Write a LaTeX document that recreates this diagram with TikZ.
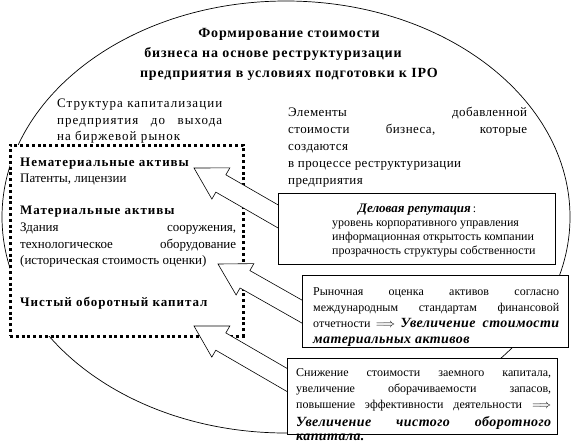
\documentclass[tikz,border=0pt]{standalone}
\usepackage{fontspec}
\usepackage{graphicx}
\setmainfont{Liberation Serif}
\usetikzlibrary{calc}
\newlength\natw
\newcommand\fitline[2]{\settowidth{\natw}{#2}\ifdim\natw<#1\relax\makebox[#1][s]{#2}\else\resizebox{#1}{\height}{#2}\fi}
\newcommand\bsp{\bfseries\addfontfeatures{LetterSpace=7.5}}
\newcommand\bis{\fontsize{14}{16}\selectfont\bfseries\itshape\addfontfeatures{LetterSpace=3}}
\tikzset{
  txt/.style={inner sep=0pt, anchor=base west, font=\fontsize{13}{15}\selectfont},
  lhd/.style={txt, font=\fontsize{13}{15}\selectfont\addfontfeatures{LetterSpace=8}},
  rhd/.style={txt, font=\fontsize{13}{15}\selectfont\addfontfeatures{LetterSpace=3}},
  ttl/.style={inner sep=0pt, anchor=base, font=\fontsize{14}{16}\selectfont\bfseries\addfontfeatures{LetterSpace=6}},
  sml/.style={inner sep=0pt, anchor=base west, font=\fontsize{12}{14}\selectfont},
  boxx/.style={draw, fill=white, line width=0.8pt, inner sep=0pt},
  dotbox/.style={draw, fill=white, line width=3pt, dash pattern=on 3pt off 2.8pt, inner sep=0pt},
  barrow/.style={draw, fill=white, line width=0.6pt, line join=miter},
}
\newcommand\blockarrow[2]{%
  \coordinate (hb) at ($(#1)!31pt!(#2)$);
  \draw[barrow] (#1) -- ($(hb)!18pt!90:(#2)$) -- ($(hb)!10pt!90:(#2)$)
    -- ($(#2)!10pt!-90:(hb)$) -- ($(#2)!10pt!90:(hb)$)
    -- ($(hb)!10pt!-90:(#2)$) -- ($(hb)!18pt!-90:(#2)$) -- cycle;}
\begin{document}
\begin{tikzpicture}[x=1pt,y=-1pt]
\useasboundingbox (0,0) rectangle (572,445);
% outer ellipse
\draw[line width=0.7pt] (286,217) ellipse [x radius=284pt, y radius=216pt];
% title
\node[ttl] (t1) at (289,37) {Формирование стоимости};
\node[ttl] (t2) at (273,57) {бизнеса на основе реструктуризации};
\node[ttl] (t3) at (289,77) {предприятия в условиях подготовки к IPO};
% left heading
\node[lhd] (l1) at (57,107) {\fitline{165pt}{Структура капитализации}};
\node[lhd] (l2) at (57,124) {\fitline{165pt}{предприятия до выхода}};
\node[lhd] (l3) at (57,140) {на биржевой рынок};
% right heading
\node[rhd] (r1) at (288,116) {\fitline{239pt}{Элементы добавленной}};
\node[rhd] (r2) at (288,133) {\fitline{239pt}{стоимости бизнеса, которые}};
\node[rhd] (r3) at (288,150) {создаются};
\node[rhd] (r4) at (288,167) {в процессе реструктуризации};
\node[rhd] (r5) at (288,184) {предприятия};
% dotted box
\node[dotbox, minimum width=233pt, minimum height=191pt] (cap) at (126.5,240.5) {};
\node[txt] (d1) at (20,166) {\bsp Нематериальные активы};
\node[txt] (d2) at (20,182) {Патенты, лицензии};
\node[txt] (d3) at (20,214) {\bsp Материальные активы};
\node[txt] (d4) at (20,231) {\fitline{216pt}{Здания сооружения,}};
\node[txt] (d5) at (20,248) {\fitline{216pt}{технологическое оборудование}};
\node[txt] (d6) at (20,264) {(историческая стоимость оценки)};
\node[txt] (d7) at (20,306) {\bsp Чистый оборотный капитал};
% block arrows (tip, tail inside the box)
\coordinate (p1) at (194,168); \coordinate (q1) at (286,221);
\coordinate (p2) at (218,264); \coordinate (q2) at (308,315);
\coordinate (p3) at (194,326); \coordinate (q3) at (294,384);
\blockarrow{p1}{q1}
\blockarrow{p2}{q2}
\blockarrow{p3}{q3}
% right boxes
\node[boxx, minimum width=277pt, minimum height=71pt] (b1) at (416.5,228.5) {};
\node[boxx, minimum width=266pt, minimum height=72pt] (b2) at (435,311) {};
\node[boxx, minimum width=270pt, minimum height=76pt] (b3) at (422,396) {};
% box 1 text
\node[sml] (g0) at (358,212) {{\fontsize{13}{15}\selectfont\bfseries\itshape Деловая репутация}\,:};
\node[sml] (g1) at (332,226) {уровень корпоративного управления};
\node[sml] (g2) at (332,240) {информационная открытость компании};
\node[sml] (g3) at (332,254) {прозрачность структуры собственности};
% box 2 text
\node[sml] (m1) at (313,295) {\fitline{246pt}{Рыночная оценка активов согласно}};
\node[sml] (m2) at (313,311) {\fitline{246pt}{международным стандартам финансовой}};
\node[sml] (m3) at (313,327) {\fitline{246pt}{отчетности $\Longrightarrow$ {\bis Увеличение стоимости}}};
\node[sml] (m4) at (313,343) {\bis материальных активов};
% box 3 text
\node[sml] (n1) at (296,376) {\fitline{255pt}{Снижение стоимости заемного капитала,}};
\node[sml] (n2) at (296,392) {\fitline{255pt}{увеличение оборачиваемости запасов,}};
\node[sml] (n3) at (296,408) {\fitline{255pt}{повышение эффективности деятельности $\Longrightarrow$}};
\node[sml] (n4) at (296,426) {\fitline{255pt}{\bis Увеличение чистого оборотного}};
\node[sml] (n5) at (296,440) {\bis капитала.};
\end{tikzpicture}
\end{document}
